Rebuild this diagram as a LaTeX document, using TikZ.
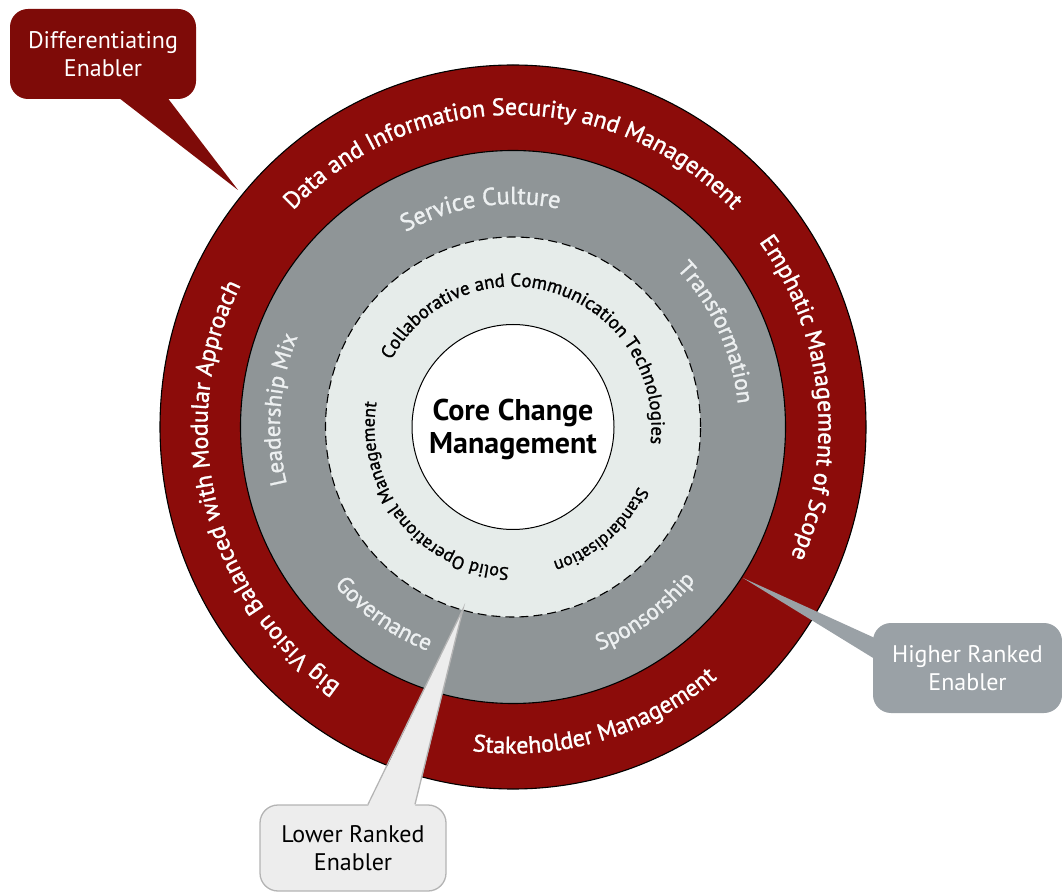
\documentclass[tikz,border=0pt]{standalone}
\usepackage{fontspec}
\setmainfont{PT Sans}
\newfontfamily\ringfont{PT Sans}[FakeBold=1.3]
\usetikzlibrary{decorations.text}
\definecolor{ringred}{HTML}{8C0C0A}
\definecolor{calred}{HTML}{7E0B08}
\definecolor{ringgrey}{HTML}{8F9597}
\definecolor{ringlight}{HTML}{E6ECEA}
\definecolor{calgrey}{HTML}{9AA1A6}
\definecolor{callight}{HTML}{EDEDED}
\definecolor{calborder}{HTML}{B4B4B4}
\definecolor{greytext}{HTML}{EDF0F1}
\newcommand\fmtouter{\ringfont\color{white}\fontsize{24}{24}\selectfont}
\newcommand\fmtgrey{\ringfont\color{greytext}\fontsize{23}{23}\selectfont}
\newcommand\fmtgreyb{\ringfont\color{greytext}\fontsize{24.5}{24.5}\selectfont}
\newcommand\fmtinner{\ringfont\color{black}\fontsize{18}{18}\selectfont}
\newcommand\fmtinnerb{\ringfont\color{black}\fontsize{18.8}{18.8}\selectfont}
\newcommand\fmtinners{\ringfont\color{black}\fontsize{17.5}{17.5}\selectfont}
\newcommand\cwtext[6]{\path[decorate,decoration={text along path,text align=center,text={|#1|#2}}] ({#3+#4}:#5 and #6) arc[start angle={#3+#4},end angle={#3-#4},x radius=#5,y radius=#6];}
\newcommand\ccwtext[6]{\path[decorate,decoration={text along path,text align=center,text={|#1|#2}}] ({#3-#4}:#5 and #6) arc[start angle={#3-#4},end angle={#3+#4},x radius=#5,y radius=#6];}
\tikzset{
  callout/.style={rectangle, rounded corners=18pt, align=center, inner sep=0pt,
    font=\fontsize{24}{28}\selectfont},
  ringline/.style={draw=black, line width=1.1pt},
}
\begin{document}
\begin{tikzpicture}[x=1pt,y=1pt]
\useasboundingbox (0,0) rectangle (1062,892);
\fill[white] (0,0) rectangle (1062,892);

% rings
\begin{scope}[shift={(513,465)}]
  \fill[ringred, ringline] (0,0) ellipse [x radius=353, y radius=362];
  \fill[ringgrey, ringline] (0,0) ellipse [x radius=272.5, y radius=276.5];
  \fill[ringlight] (0,0) ellipse [x radius=187.5, y radius=190];
  \draw[black, line width=1.1pt, dash pattern=on 9pt off 5pt] (0,0) ellipse [x radius=187.5, y radius=190];
  \fill[white, draw=black, line width=1pt] (0,0) ellipse [x radius=101, y radius=102.5];

  % outer ring texts
  \cwtext{\fmtouter}{Data and Information Security and Management}{90}{80}{305.5}{312}
  \cwtext{\fmtouter}{Emphatic Management of Scope}{6}{70}{305.5}{312}
  \ccwtext{\fmtouter}{Stakeholder Management}{-74}{60}{320}{326.5}
  \cwtext{\fmtouter}{Big Vision Balanced with Modular Approach}{194.5}{80}{305.5}{312}

  % grey ring texts
  \cwtext{\fmtgreyb}{Service Culture}{98.5}{50}{221}{223}
  \cwtext{\fmtgrey}{Transformation}{24.8}{50}{226}{229}
  \ccwtext{\fmtgrey}{Sponsorship}{-54.3}{45}{237}{240}
  \ccwtext{\fmtgrey}{Governance}{235.2}{45}{237}{240}
  \cwtext{\fmtgrey}{Leadership Mix}{175.7}{50}{233}{236}

  % inner dashed ring texts
  \cwtext{\fmtinnerb}{Collaborative and Communication Technologies}{72.4}{100}{138.5}{140.5}
  \cwtext{\fmtinners}{Standardisation}{-49.3}{50}{138.5}{140.5}
  \cwtext{\fmtinner}{Solid Operational Management}{219.3}{80}{138.5}{140.5}
\end{scope}

\node[font=\bfseries\fontsize{30}{33}\selectfont, align=center] (core) at (513,463) {Core Change\\Management};

% callout: differentiating
\node[callout, fill=calred, text=white, minimum width=186, minimum height=90] (dif) at (103,838) {Differentiating\\Enabler};
\coordinate (difTip) at (238,702);
\fill[calred] ([xshift=15pt,yshift=2pt]dif.south) -- (difTip) -- ([xshift=64pt,yshift=2pt]dif.south) -- cycle;

% callout: higher ranked
\node[callout, fill=calgrey, text=white, minimum width=189, minimum height=90] (hi) at (967.5,224) {Higher Ranked\\Enabler};
\coordinate (hiTip) at (743,314);
\fill[calgrey] ([xshift=2pt,yshift=30pt]hi.west) -- (hiTip) -- ([xshift=2pt,yshift=9pt]hi.west) -- cycle;

% callout: lower ranked
\node[callout, fill=callight, draw=calborder, line width=1.3pt, text=black, minimum width=186, minimum height=86] (lo) at (353,44) {Lower Ranked\\Enabler};
\coordinate (loTip) at (463,283);
\fill[callight] ([xshift=15pt,yshift=-2pt]lo.north) -- (loTip) -- ([xshift=62pt,yshift=-2pt]lo.north) -- cycle;
\draw[calborder, line width=1.3pt] ([xshift=15pt]lo.north) -- (loTip) -- ([xshift=62pt]lo.north);
\end{tikzpicture}
\end{document}
